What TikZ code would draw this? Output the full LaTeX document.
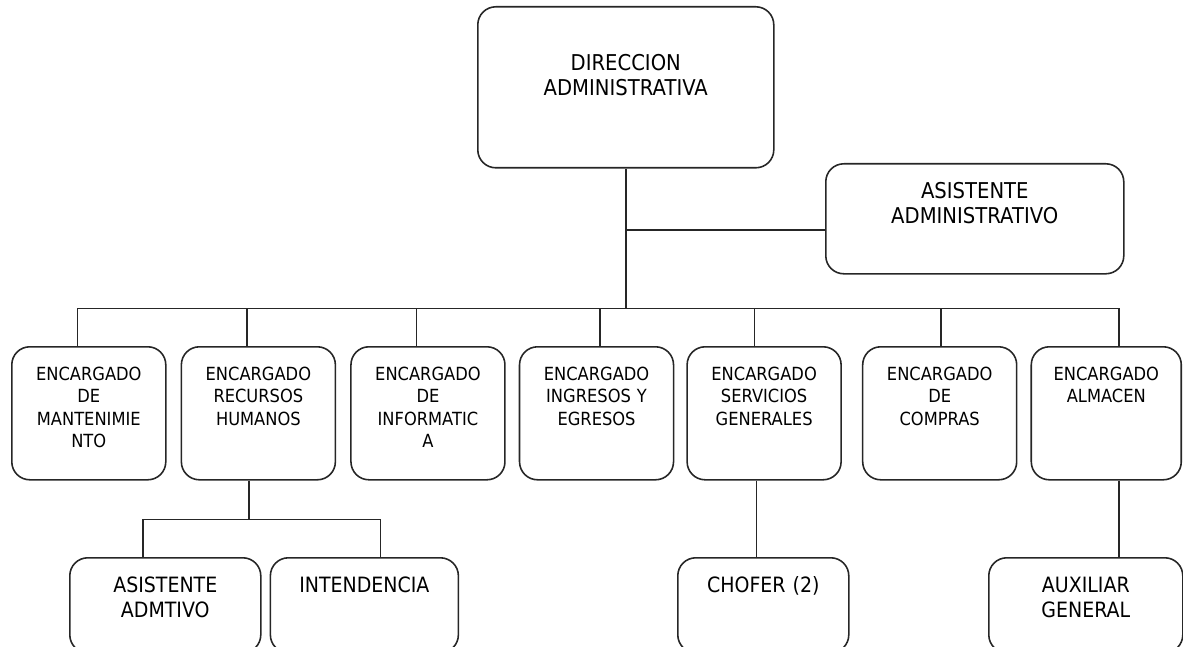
\documentclass[tikz,border=0pt]{standalone}
\usepackage{fontspec}
\setmainfont{DejaVu Sans}[FakeStretch=0.9]
\usepackage{tikz}
\usetikzlibrary{positioning}

\begin{document}
\begin{tikzpicture}[
    box/.style={rectangle, rounded corners=0.36cm, draw=black!85, line width=0.9pt, align=center, inner xsep=0pt, inner ysep=0pt},
    unit/.style={box, text width=3.08cm, text height=0.67cm, text depth=1.99cm, font=\fontsize{10.3}{12.8}\selectfont},
    head/.style={box, font=\fontsize{12.4}{14.2}\selectfont},
    sub/.style={box, font=\fontsize{12.0}{14.4}\selectfont, text height=0.69cm, text depth=1.21cm},
    link/.style={draw=black!85, line width=0.9pt}
]
\useasboundingbox (0,0) rectangle (23.66,12.92);
\clip (0,0) rectangle (23.66,12.92);

% direccion y asistente
\node[head, anchor=north west, text width=5.92cm, text height=1.28cm, text depth=1.94cm] (dir) at (9.54,12.80) {DIRECCION\\ADMINISTRATIVA};
\node[head, anchor=north west, text width=5.96cm, text height=0.70cm, text depth=1.50cm] (asis) at (16.50,9.66) {ASISTENTE\\ADMINISTRATIVO};

% encargados
\node[unit, anchor=north west] (mant) at (0.22,6.00) {ENCARGADO\\DE\\MANTENIMIE\\NTO};
\node[unit, right=0.28cm of mant] (rrhh) {ENCARGADO\\RECURSOS\\HUMANOS};
\node[unit, right=0.28cm of rrhh] (info) {ENCARGADO\\DE\\INFORMATIC\\A};
\node[unit, right=0.26cm of info] (ingr) {ENCARGADO\\INGRESOS Y\\EGRESOS};
\node[unit, right=0.24cm of ingr] (serv) {ENCARGADO\\SERVICIOS\\GENERALES};
\node[unit, right=0.40cm of serv] (comp) {ENCARGADO\\DE\\COMPRAS};
\node[unit, right=0.26cm of comp, text width=3.00cm] (alma) {ENCARGADO\\ALMACEN};

% tercer nivel
\node[sub, anchor=north west, text width=3.82cm] (admt) at (1.38,1.78) {ASISTENTE\\ADMTIVO};
\node[sub, right=0.16cm of admt, text width=3.76cm] (inte) {INTENDENCIA};
\node[sub, anchor=north west, text width=3.42cm] (chof) at (13.54,1.78) {CHOFER (2)};
\node[sub, anchor=north west, text width=3.88cm] (auxg) at (19.76,1.78) {AUXILIAR\\GENERAL};

\draw[link] (dir.south) -- ++(0,-2.80) coordinate (bus);
\draw[link] ([yshift=-0.22cm]asis.west) -| (bus);
\draw[link] ([xshift=-0.23cm]mant.north) |- (bus);
\draw[link] ([xshift=-0.23cm]rrhh.north) |- (bus);
\draw[link] ([xshift=-0.23cm]info.north) |- (bus);
\draw[link] ([xshift=0.07cm]ingr.north) |- (bus);
\draw[link] ([xshift=-0.19cm]serv.north) |- (bus);
\draw[link] ([xshift=0.03cm]comp.north) |- (bus);
\draw[link] ([xshift=0.25cm]alma.north) |- (bus);

\draw[link] ([xshift=-0.19cm]rrhh.south) -- ++(0,-0.78) coordinate (rh);
\draw[link] ([xshift=-0.45cm]admt.north) |- (rh) -| ([xshift=0.32cm]inte.north);
\draw[link] ([xshift=-0.15cm]serv.south) -- ([xshift=-0.15cm]serv.south |- chof.north);
\draw[link] ([xshift=0.25cm]alma.south) -- ([xshift=0.25cm]alma.south |- auxg.north);

\end{tikzpicture}
\end{document}
